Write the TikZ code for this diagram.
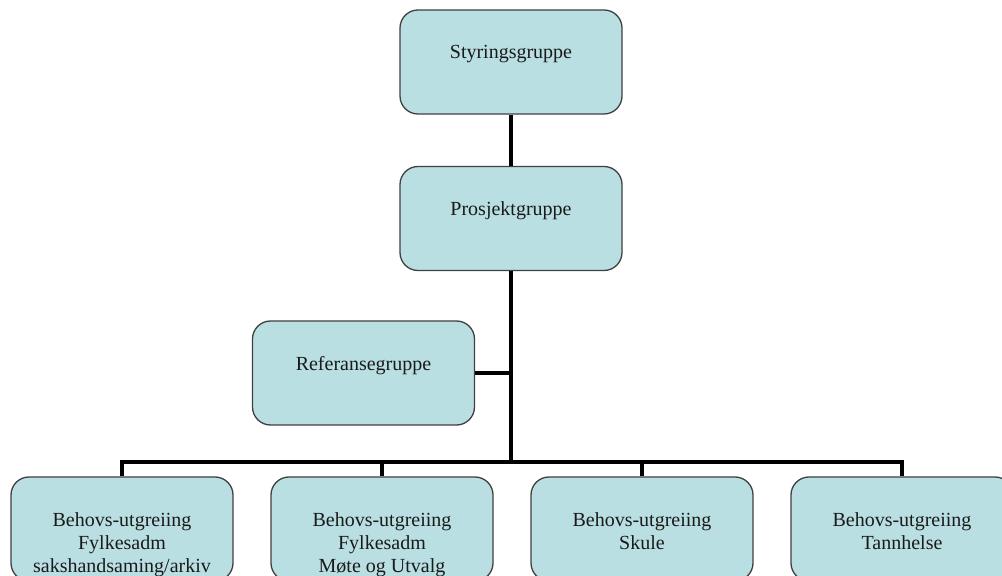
\documentclass[tikz,border=0pt]{standalone}
\usepackage{fontspec}
\setmainfont{Liberation Serif}
\definecolor{boxfill}{HTML}{B9DFE3}
\definecolor{boxline}{HTML}{404040}
\definecolor{txt}{HTML}{1A1A1A}
\begin{document}
\begin{tikzpicture}[x=1pt,y=1pt,
  box/.style={draw=boxline, fill=boxfill, line width=1.3pt, rounded corners=18pt,
    minimum width=222pt, minimum height=104pt, inner sep=0pt},
  lbl/.style={anchor=north, inner sep=0pt, align=center, text=txt,
    font=\fontsize{20pt}{23pt}\selectfont, yshift=-36pt},
  conn/.style={draw=black, line width=3.8pt}]
\useasboundingbox (0,0) rectangle (1002,576);
\clip (0,0) rectangle (1002,576);
\fill[white] (0,0) rectangle (1002,576);
% boxes
\node[box] (styr) at (511,514) {};
\node[box] (pros) at (511,357.5) {};
\node[box] (ref) at (363.5,203) {};
\node[box] (b1) at (122,47) {};
\node[box] (b2) at (382,47) {};
\node[box] (b3) at (642,47) {};
\node[box] (b4) at (902,47) {};
% texts
\node[lbl] (styrt) at (styr.north) {Styringsgruppe};
\node[lbl] (prost) at (pros.north) {Prosjektgruppe};
\node[lbl] (reft) at (ref.north) {Referansegruppe};
\node[lbl] (b1t) at (b1.north) {Behovs-utgreiing\\Fylkesadm\\sakshandsaming/arkiv};
\node[lbl] (b2t) at (b2.north) {Behovs-utgreiing\\Fylkesadm\\Møte og Utvalg};
\node[lbl] (b3t) at (b3.north) {Behovs-utgreiing\\Skule};
\node[lbl] (b4t) at (b4.north) {Behovs-utgreiing\\Tannhelse};
% connectors
\coordinate (busc) at (511,114);
\draw[conn] (styr.south) -- (pros.north);
\draw[conn] (pros.south) -- (busc);
\draw[conn] (ref.east) -- (ref.east -| pros.south);
\draw[conn] (b1.north) |- (busc) -| (b4.north);
\draw[conn] (b2.north) -- (b2.north |- busc);
\draw[conn] (b3.north) -- (b3.north |- busc);
\end{tikzpicture}
\end{document}
